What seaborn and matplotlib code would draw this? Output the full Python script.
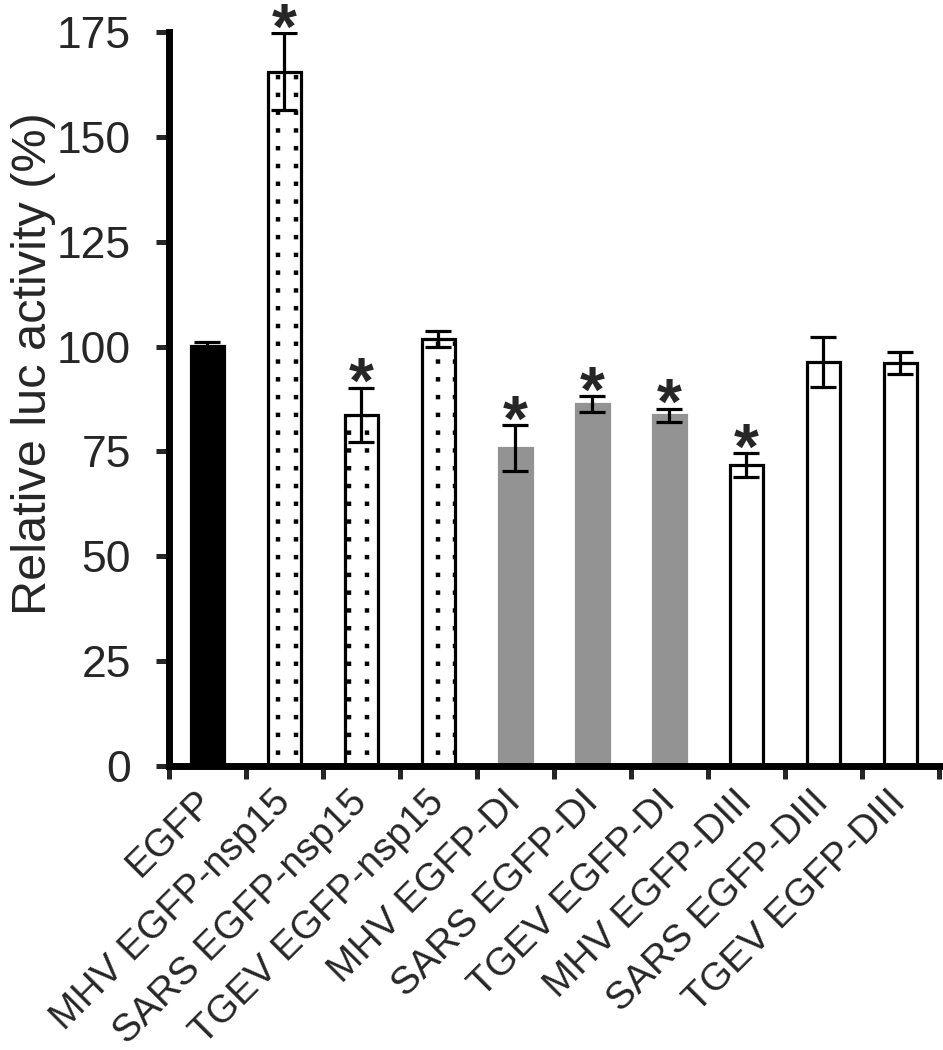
import numpy as np
import matplotlib
matplotlib.use('Agg')
import matplotlib.pyplot as plt
import seaborn as sns

labels = ['EGFP', 'MHV EGFP-nsp15', 'SARS EGFP-nsp15', 'TGEV EGFP-nsp15',
          'MHV EGFP-DI', 'SARS EGFP-DI', 'TGEV EGFP-DI',
          'MHV EGFP-DIII', 'SARS EGFP-DIII', 'TGEV EGFP-DIII']
values = [100.2, 165.5, 83.7, 101.8, 75.8, 86.3, 83.6, 71.8, 96.4, 96.1]
errors = [0.9, 9.2, 6.5, 1.9, 5.5, 1.9, 1.6, 2.8, 6.0, 2.6]
significant = [False, True, True, False, True, True, True, True, False, False]
groups = ['control', 'nsp15', 'nsp15', 'nsp15', 'DI', 'DI', 'DI', 'DIII', 'DIII', 'DIII']

fill = {'control': 'black', 'nsp15': 'white', 'DI': '#939393', 'DIII': 'white'}
edge = {'control': 'black', 'nsp15': 'black', 'DI': '#939393', 'DIII': 'black'}
dotted = {'control': False, 'nsp15': True, 'DI': False, 'DIII': False}

sns.set_style('white')
plt.rcParams['font.family'] = ['Liberation Sans', 'DejaVu Sans']

fig = plt.figure(figsize=(9.43, 10.5), dpi=100)
ax = fig.add_axes([0.1792, 0.2705, 0.8165, 0.699])

sns.barplot(x=labels, y=values, hue=labels, palette=[fill[g] for g in groups],
            saturation=1, width=0.43, errorbar=None, legend=False, ax=ax)

# dotted fill: columns of square dots clipped to each bar
dot_cols = np.arange(-0.5, len(labels) + 0.5, 0.23) + 0.04
for patch, g in zip(ax.patches, groups):
    patch.set_edgecolor(edge[g])
    patch.set_linewidth(2.3)
    if dotted[g]:
        top = patch.get_height()
        for cx in dot_cols:
            ln, = ax.plot([cx, cx], [0, top], color='black', lw=3.2,
                          linestyle=(1.5, (1, 3)), solid_capstyle='butt')
            ln.set_clip_path(patch)

x = np.arange(len(labels))
ax.errorbar(x, values, yerr=errors, fmt='none', ecolor='black',
            elinewidth=2.3, capsize=9.5, capthick=2.3, zorder=5)

# stars for significant ones
for i in x:
    if significant[i]:
        ax.text(i, values[i] + errors[i] + 0.4, '*', ha='center', va='center',
                fontsize=46, fontweight='bold', clip_on=False)

ax.set_xlim(-0.5, len(labels) - 0.5)
ax.set_ylim(0, 175)
ax.set_yticks(np.arange(0, 176, 25))
ax.tick_params(axis='y', labelsize=32, width=3.6, length=9.5, direction='out', left=True, pad=18)
ax.set_xticks(x)
ax.set_xticklabels(labels, rotation=45, ha='right', va='center',
                   rotation_mode='anchor', fontsize=28)
ax.tick_params(axis='x', which='major', length=0, pad=22)
ax.set_xticks(np.arange(-0.5, len(labels), 1), minor=True)
ax.tick_params(axis='x', which='minor', length=9, width=3.6, direction='out', bottom=True)

ax.set_ylabel('Relative luc activity (%)', fontsize=35)
ax.yaxis.set_label_coords(-0.147, 0.548)
ax.set_xlabel('')
sns.despine(ax=ax)
for s in ['left', 'bottom']:
    ax.spines[s].set_linewidth(5)
    ax.spines[s].set_color('black')

fig.savefig('out.png', dpi=100)
